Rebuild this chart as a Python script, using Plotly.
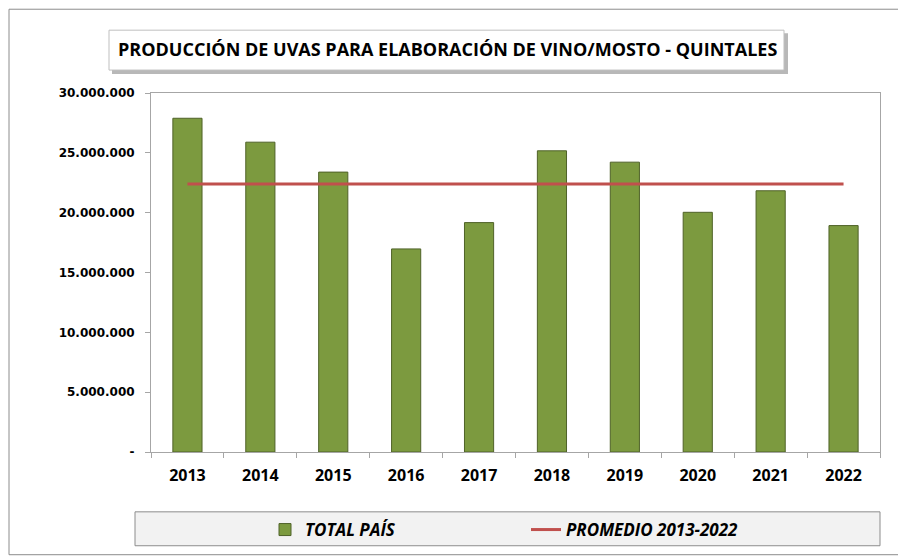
import plotly.graph_objects as go

years = ["2013", "2014", "2015", "2016", "2017", "2018", "2019", "2020", "2021", "2022"]
total_pais = [27890000, 25890000, 23390000, 16970000, 19170000, 25170000, 24220000, 20030000, 21830000, 18920000]
promedio = [22390000] * len(years)
y_ticks = [0, 5000000, 10000000, 15000000, 20000000, 25000000, 30000000]
y_tick_text = ["-", "5.000.000", "10.000.000", "15.000.000", "20.000.000", "25.000.000", "30.000.000"]
title_text = "PRODUCCIÓN DE UVAS PARA ELABORACIÓN DE VINO/MOSTO - QUINTALES"

OFF = 8  # page body margin
W, H = 906 - OFF, 559 - OFF
L, R, T, B = 151, 880, 93, 453  # plot area in page pixels
pw, ph = R - L, B - T


def px(x):
    return (x - L) / pw


def py(y):
    return (B - y) / ph


fig = go.Figure()
fig.add_trace(go.Bar(
    x=years, y=total_pais, name="TOTAL PAÍS",
    marker=dict(color="#7c9a3f", line=dict(color="#4f6228", width=1)),
    width=0.4,
))
fig.add_trace(go.Scatter(
    x=years, y=promedio, name="PROMEDIO 2013-2022", mode="lines",
    line=dict(color="#c0504d", width=3),
))

shapes = []
# outer chart border
shapes.append(dict(type="rect", xref="paper", yref="paper",
                   x0=px(9), x1=px(912), y0=py(556), y1=py(9),
                   line=dict(color="#8c8c8c", width=1), layer="below"))
# title box shadow and box
shapes.append(dict(type="rect", xref="paper", yref="paper",
                   x0=px(112), x1=px(788), y0=py(74), y1=py(33),
                   line=dict(width=0), fillcolor="#b8b8b8", layer="below"))
shapes.append(dict(type="rect", xref="paper", yref="paper",
                   x0=px(109), x1=px(784), y0=py(70), y1=py(30),
                   line=dict(color="#bfbfbf", width=1), fillcolor="white", layer="below"))
# legend box
shapes.append(dict(type="rect", xref="paper", yref="paper",
                   x0=px(135), x1=px(880), y0=py(547), y1=py(513),
                   line=dict(color="#8c8c8c", width=1), fillcolor="#f2f2f2", layer="below"))

fig.update_layout(
    width=W, height=H,
    margin=dict(l=L - OFF, r=W - (R - OFF), t=T - OFF, b=H - (B - OFF), pad=0),
    paper_bgcolor="white", plot_bgcolor="white",
    shapes=shapes,
    showlegend=True,
    legend=dict(orientation="h", x=px(265), y=py(530), xanchor="left", yanchor="middle",
                bgcolor="rgba(0,0,0,0)", entrywidth=216, entrywidthmode="pixels",
                font=dict(family="Open Sans, sans-serif", size=17, color="#000000"),
                traceorder="normal"),
    annotations=[dict(text="<b>" + title_text + "</b>", xref="paper", yref="paper",
                      x=px(447), y=py(49), xanchor="center", yanchor="middle", showarrow=False,
                      font=dict(family="Open Sans, sans-serif", size=18, color="#000000"))],
    bargap=0.6,
)

fig.update_xaxes(
    type="category", tickvals=years, ticktext=["<b>" + y + "</b>" for y in years],
    showline=True, linecolor="#a6a6a6", linewidth=1, mirror=True,
    ticks="outside", tickson="boundaries", ticklen=5, tickcolor="#a6a6a6",
    tickfont=dict(family="Open Sans, sans-serif", size=16, color="#000000"),
    ticklabelstandoff=9,
    showgrid=False,
)
fig.update_yaxes(
    range=[0, 30000000], tickvals=y_ticks, ticktext=["<b>" + t + "</b>" for t in y_tick_text],
    showline=True, linecolor="#a6a6a6", linewidth=1, mirror=True,
    ticks="outside", ticklen=5, tickcolor="#a6a6a6",
    tickfont=dict(family="DejaVu Sans, sans-serif", size=12, color="#000000"),
    ticklabelstandoff=8,
    showgrid=False, zeroline=False,
)

fig.for_each_trace(lambda t: t.update(name="<b><i>" + t.name + "</i></b>"))

fig.write_html("out.html")
